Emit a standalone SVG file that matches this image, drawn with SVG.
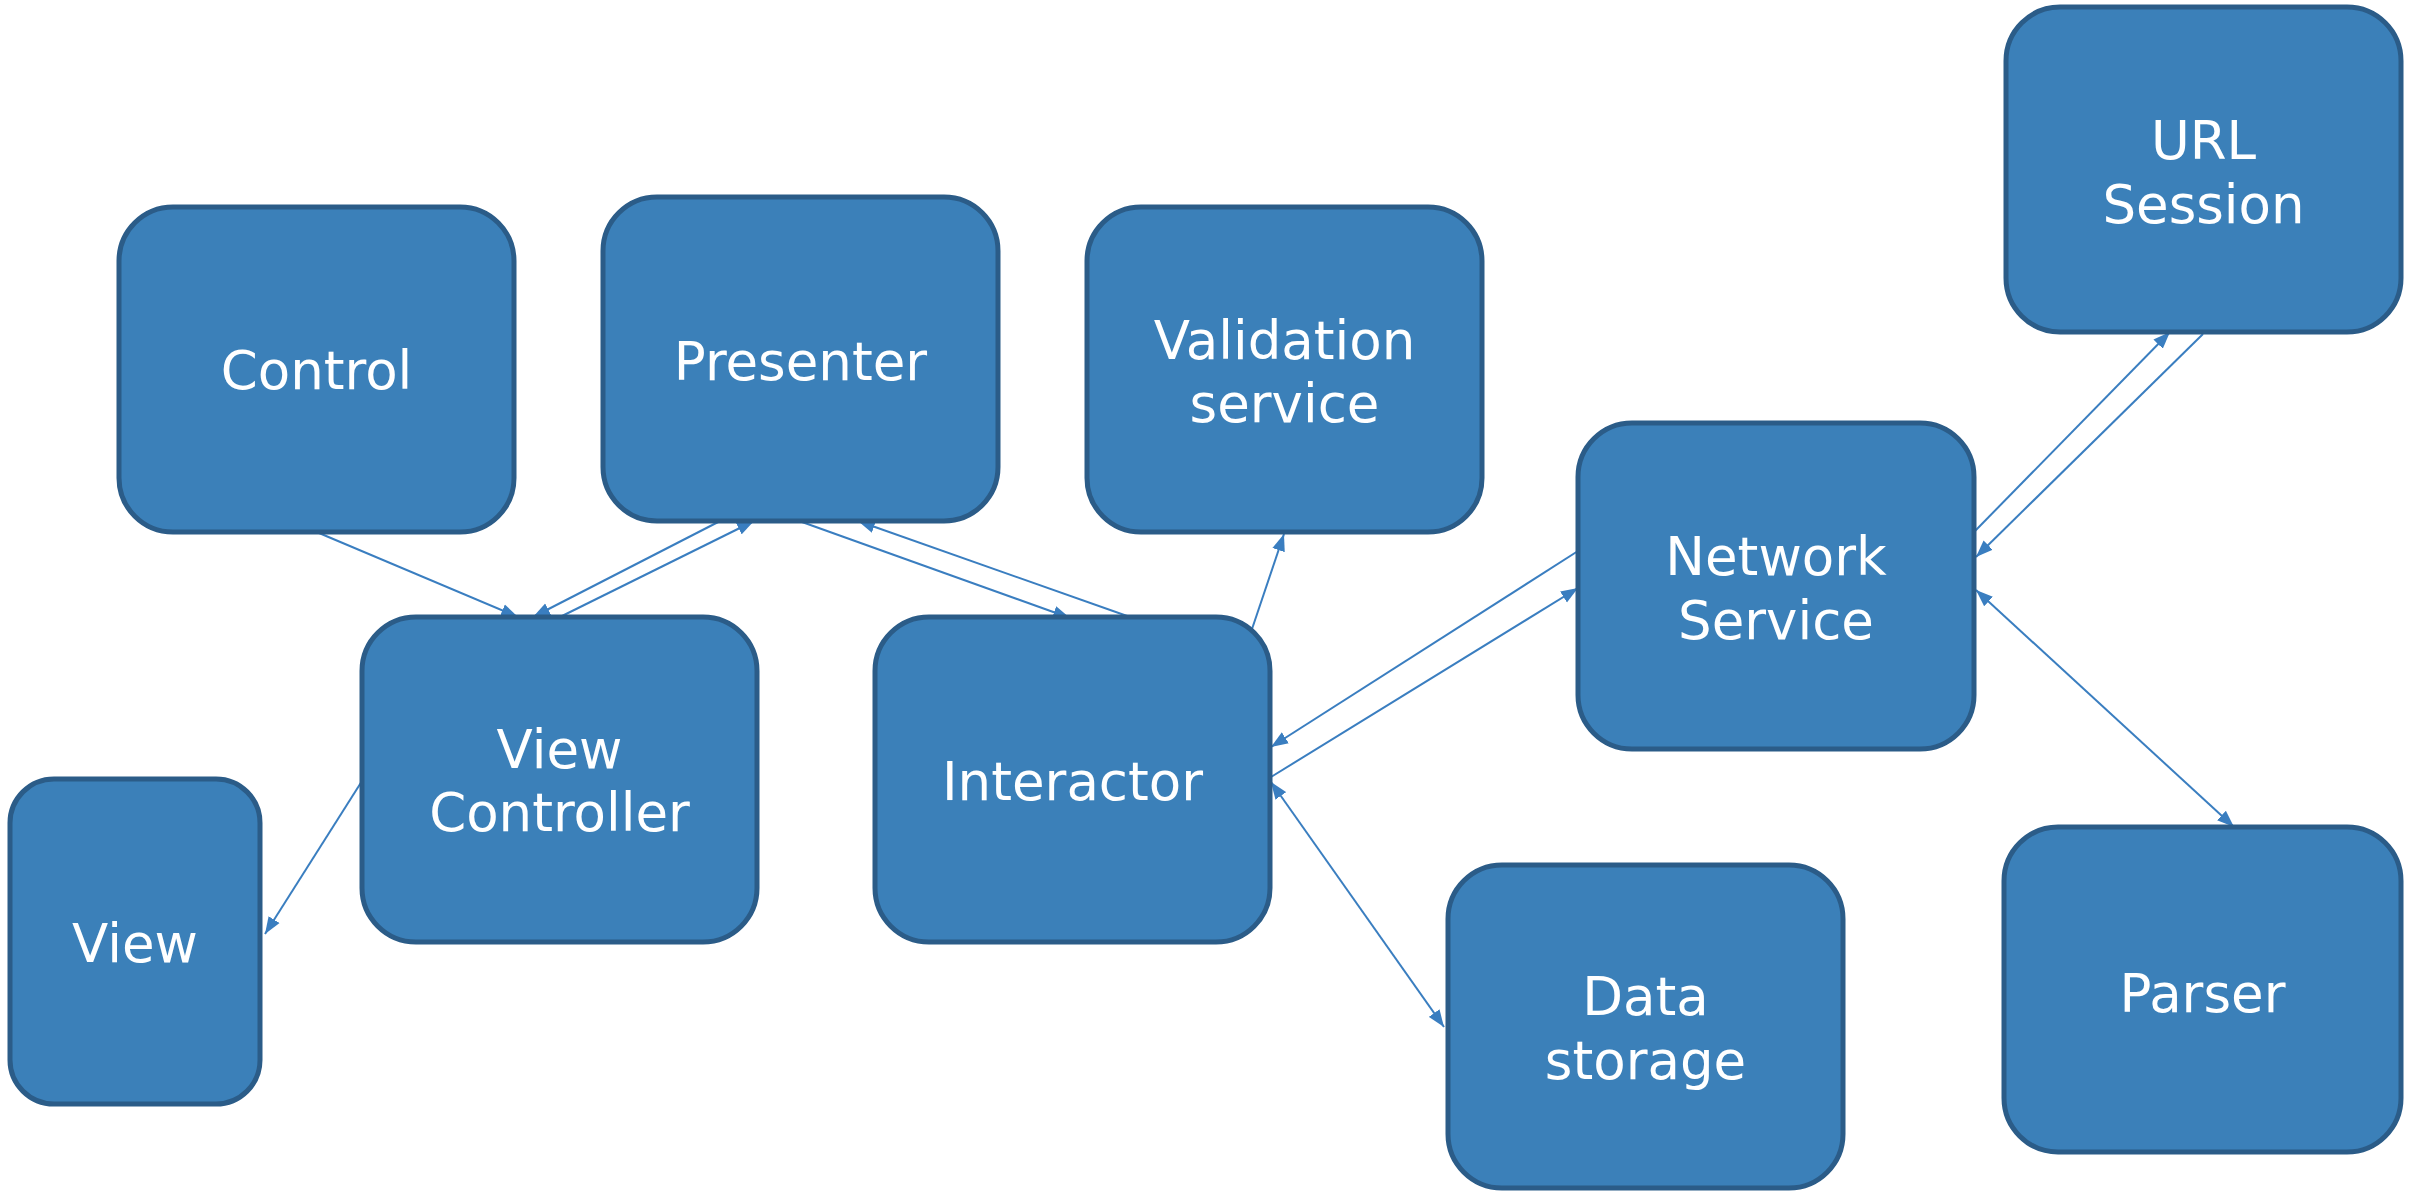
<svg xmlns="http://www.w3.org/2000/svg" width="2425" height="1191" viewBox="0 0 2425 1191">
<style>
.box{fill:#3b80b9;stroke:#2b5c88;stroke-width:5}
.lbl{font-family:"DejaVu Sans","Verdana",sans-serif;font-size:53px;fill:#ffffff;text-anchor:middle}
.con{stroke:#3a7ec0;stroke-width:2;fill:none}
.a{marker-end:url(#ah)}
.b{marker-end:url(#ah);marker-start:url(#ahs)}
</style>
<defs>
<marker id="ah" markerUnits="userSpaceOnUse" markerWidth="18" markerHeight="14" refX="17" refY="6.5" orient="auto" viewBox="0 0 18 13">
<path d="M0,0 L17,6.5 L0,13 z" fill="#3a7ec0"/>
</marker>
<marker id="ahs" markerUnits="userSpaceOnUse" markerWidth="18" markerHeight="14" refX="17" refY="6.5" orient="auto-start-reverse" viewBox="0 0 18 13">
<path d="M0,0 L17,6.5 L0,13 z" fill="#3a7ec0"/>
</marker>
</defs>
<rect width="2425" height="1191" fill="#ffffff"/>
<g id="connectors">
<line class="con a" x1="319" y1="533" x2="518" y2="617"/>
<line class="con a" x1="560" y1="617" x2="754" y2="521"/>
<line class="con a" x1="724" y1="519" x2="533" y2="617"/>
<line class="con a" x1="362" y1="781" x2="265" y2="934"/>
<line class="con a" x1="802" y1="522" x2="1070" y2="618"/>
<line class="con a" x1="1130" y1="617" x2="858" y2="521"/>
<line class="con a" x1="1251" y1="632" x2="1284" y2="534"/>
<line class="con a" x1="1578" y1="551" x2="1271" y2="747"/>
<line class="con a" x1="1271" y1="777" x2="1578" y2="588"/>
<line class="con b" x1="1271" y1="782" x2="1444" y2="1027"/>
<line class="con a" x1="1975" y1="531" x2="2170" y2="332"/>
<line class="con a" x1="2203" y1="334" x2="1976" y2="557"/>
<line class="con b" x1="1976" y1="590" x2="2234" y2="827"/>
</g>
<g id="control">
<rect class="box" x="119" y="207" width="395" height="325" rx="54" ry="54"/>
<text class="lbl" x="316.5" y="389">Control</text>
</g>
<g id="presenter">
<rect class="box" x="603" y="197" width="395" height="324" rx="54" ry="54"/>
<text class="lbl" x="800.5" y="380">Presenter</text>
</g>
<g id="validation-service">
<rect class="box" x="1087" y="207" width="395" height="325" rx="54" ry="54"/>
<text class="lbl" x="1284.5" y="359">Validation</text>
<text class="lbl" x="1284.5" y="422">service</text>
</g>
<g id="url-session">
<rect class="box" x="2006" y="7" width="395" height="325" rx="54" ry="54"/>
<text class="lbl" x="2203.5" y="159">URL</text>
<text class="lbl" x="2203.5" y="223">Session</text>
</g>
<g id="network-service">
<rect class="box" x="1578" y="423" width="396" height="326" rx="54" ry="54"/>
<text class="lbl" x="1776" y="575">Network</text>
<text class="lbl" x="1776" y="639">Service</text>
</g>
<g id="view-controller">
<rect class="box" x="362" y="617" width="395" height="325" rx="54" ry="54"/>
<text class="lbl" x="559.5" y="768">View</text>
<text class="lbl" x="559.5" y="831">Controller</text>
</g>
<g id="interactor">
<rect class="box" x="875" y="617" width="395" height="325" rx="54" ry="54"/>
<text class="lbl" x="1072.5" y="800">Interactor</text>
</g>
<g id="view">
<rect class="box" x="10" y="779" width="250" height="325" rx="44" ry="44"/>
<text class="lbl" x="135" y="962">View</text>
</g>
<g id="data-storage">
<rect class="box" x="1448" y="865" width="395" height="323" rx="54" ry="54"/>
<text class="lbl" x="1645.5" y="1015">Data</text>
<text class="lbl" x="1645.5" y="1079">storage</text>
</g>
<g id="parser">
<rect class="box" x="2004" y="827" width="397" height="325" rx="54" ry="54"/>
<text class="lbl" x="2202.5" y="1012">Parser</text>
</g>
</svg>
